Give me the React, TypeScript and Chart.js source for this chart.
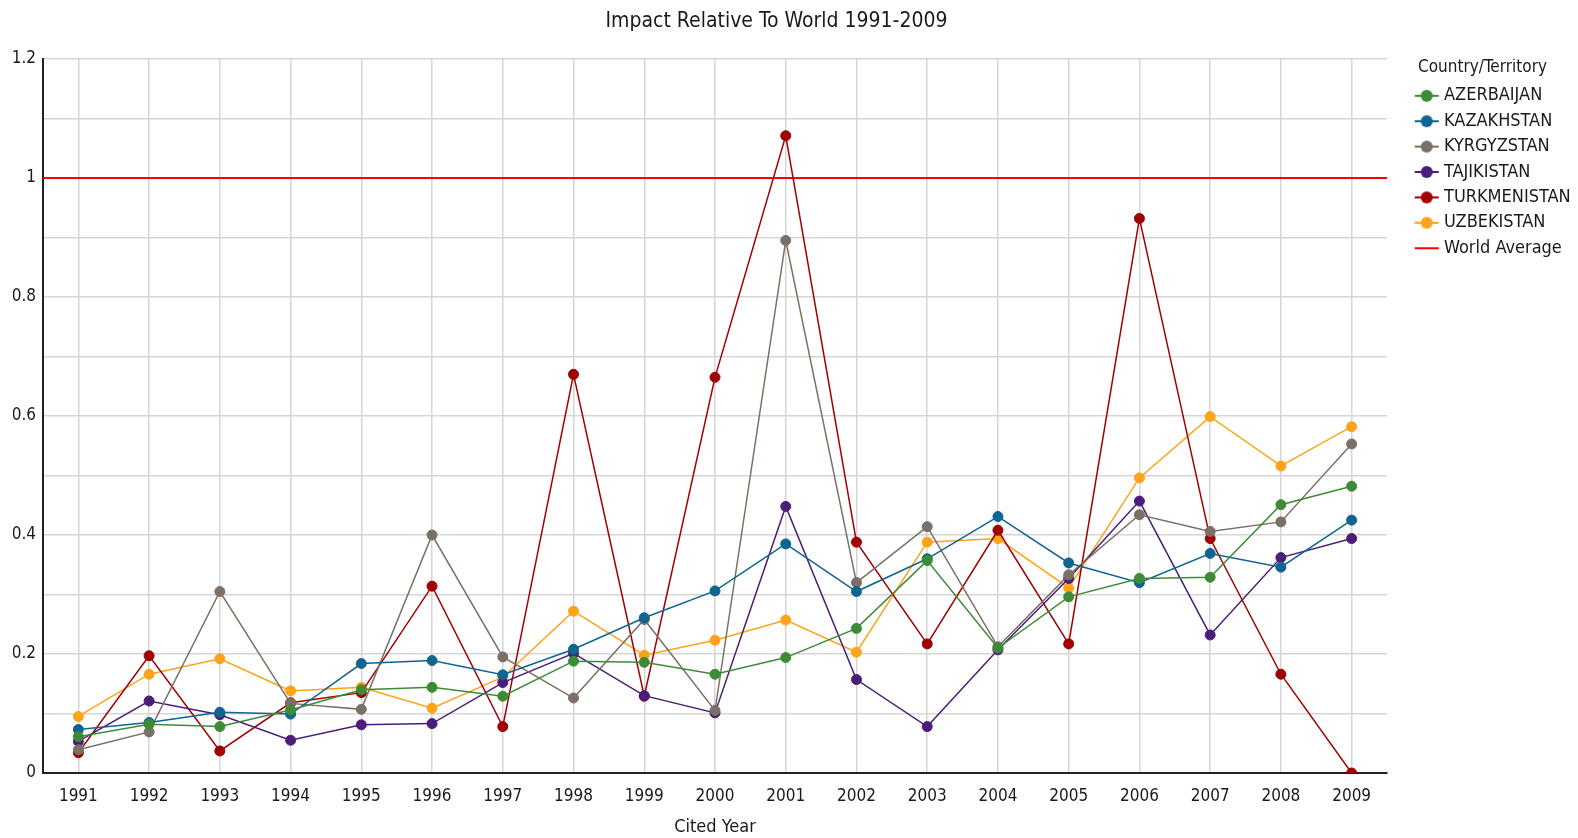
import React, { useEffect, useRef } from "react";
import { Chart, registerables } from "chart.js";

Chart.register(...registerables);

const years = ["1991","1992","1993","1994","1995","1996","1997","1998","1999","2000","2001","2002","2003","2004","2005","2006","2007","2008","2009"];

const azerbaijan = [0.061,0.082,0.078,0.106,0.140,0.144,0.129,0.188,0.186,0.166,0.194,0.243,0.357,0.210,0.296,0.327,0.329,0.451,0.482];
const kazakhstan = [0.073,0.085,0.102,0.099,0.184,0.189,0.165,0.208,0.261,0.306,0.385,0.305,0.360,0.431,0.353,0.320,0.369,0.346,0.425];
const kyrgyzstan = [0.039,0.069,0.305,0.117,0.107,0.400,0.195,0.126,0.258,0.105,0.895,0.320,0.414,0.212,0.333,0.434,0.406,0.422,0.553];
const tajikistan = [0.053,0.121,0.098,0.055,0.081,0.083,0.152,0.201,0.130,0.101,0.448,0.157,0.078,0.207,0.327,0.457,0.232,0.362,0.394];
const turkmenistan = [0.034,0.197,0.037,0.118,0.135,0.314,0.078,0.670,0.129,0.665,1.071,0.388,0.217,0.408,0.217,0.932,0.394,0.166,0.0];
const uzbekistan = [0.095,0.166,0.192,0.138,0.144,0.109,0.161,0.272,0.198,0.223,0.257,0.203,0.388,0.394,0.311,0.496,0.599,0.516,0.582];
const worldAverage = [1,1,1,1,1,1,1,1,1,1,1,1,1,1,1,1,1,1,1];

const seriesNames = ["AZERBAIJAN","KAZAKHSTAN","KYRGYZSTAN","TAJIKISTAN","TURKMENISTAN","UZBEKISTAN"];
const seriesColors = ["#3d8b37","#0e6592","#7a7065","#4a1e78","#a00000","#ffa31a"];
const seriesData = [azerbaijan, kazakhstan, kyrgyzstan, tajikistan, turkmenistan, uzbekistan];
const worldColor = "#ff0000";

const FONT = '"DejaVu Sans Condensed", "DejaVu Sans", sans-serif';
const TEXT = "#1a1a1a";

function makeMarker(color: string, withPoint: boolean) {
  const c = document.createElement("canvas");
  c.width = 50;
  c.height = 14;
  const g = c.getContext("2d")!;
  g.strokeStyle = color;
  g.lineWidth = 2;
  g.beginPath();
  g.moveTo(25, 7);
  g.lineTo(49, 7);
  g.stroke();
  if (withPoint) {
    g.fillStyle = color;
    g.beginPath();
    g.arc(37, 7, 6, 0, Math.PI * 2);
    g.fill();
  }
  return c;
}

export default function App() {
  const ref = useRef<HTMLCanvasElement | null>(null);

  useEffect(() => {
    if (!ref.current) return;
    const markers = [
      ...seriesColors.map((c) => makeMarker(c, true)),
      makeMarker(worldColor, false),
    ];

    const datasets: any[] = seriesNames.map((name, i) => ({
      label: name,
      data: seriesData[i],
      borderColor: seriesColors[i],
      backgroundColor: seriesColors[i],
      pointBackgroundColor: seriesColors[i],
      pointBorderColor: seriesColors[i],
      borderWidth: 1.5,
      pointRadius: 5,
      pointBorderWidth: 1,
      tension: 0,
    }));
    datasets.push({
      label: "World Average",
      data: worldAverage,
      borderColor: worldColor,
      backgroundColor: worldColor,
      showLine: false,
      borderWidth: 0,
      pointRadius: 0,
    });

    const shiftTitle = {
      id: "shiftTitle",
      afterLayout(chart: any) {
        const t = chart.titleBlock;
        if (t) t.right = t.right - 38;
      },
    };

    // World average reference line spanning the whole plot width
    const worldLine = {
      id: "worldLine",
      beforeDatasetsDraw(chart: any) {
        const { ctx, chartArea, scales } = chart;
        const y = scales.y.getPixelForValue(worldAverage[0]);
        ctx.save();
        ctx.strokeStyle = worldColor;
        ctx.lineWidth = 2;
        ctx.beginPath();
        ctx.moveTo(chartArea.left, y);
        ctx.lineTo(chartArea.right, y);
        ctx.stroke();
        ctx.restore();
      },
    };

    const chart = new Chart(ref.current, {
      type: "line",
      data: { labels: years, datasets },
      plugins: [shiftTitle, worldLine],
      options: {
        animation: false,
        responsive: true,
        maintainAspectRatio: false,
        devicePixelRatio: 1,
        layout: { padding: { left: 13, right: 0, top: 0, bottom: 0 } },
        plugins: {
          tooltip: { enabled: false },
          title: {
            display: true,
            text: "Impact Relative To World 1991-2009",
            color: TEXT,
            font: { family: FONT, size: 21, weight: "normal" },
            padding: { top: 9.4, bottom: 24.4 },
          },
          legend: {
            display: true,
            position: "right",
            align: "start",
            fullSize: false,
            maxWidth: 191,
            title: {
              display: true,
              text: "Country/Territory",
              color: TEXT,
              position: "center",
              font: { family: FONT, size: 17 },
              padding: { top: 0, bottom: 0 },
            },
            labels: {
              usePointStyle: true,
              pointStyleWidth: 40.6,
              padding: 7.4,
              color: TEXT,
              font: { family: FONT, size: 18 },
              generateLabels: (ch: any) => {
                const items = (Chart.defaults.plugins.legend.labels as any).generateLabels(ch);
                return items.map((it: any) => ({ ...it, pointStyle: markers[it.datasetIndex] }));
              },
            },
          },
        },
        scales: {
          x: {
            type: "category",
            offset: true,
            grid: { display: true, offset: false, color: "#d6d6d6", lineWidth: 1.5, drawTicks: false },
            border: { display: true, color: "#222", width: 2 },
            afterFit: (scale: any) => {
              scale.height = 65;
            },
            ticks: { color: TEXT, padding: 13.8, font: { family: FONT, size: 17 }, maxRotation: 0, autoSkip: false },
            title: {
              display: true,
              text: "Cited Year",
              color: TEXT,
              font: { family: FONT, size: 18 },
              padding: { top: 12.6, bottom: 0 },
            },
          },
          y: {
            type: "linear",
            min: 0,
            max: 1.2,
            grid: { display: true, color: "#d6d6d6", lineWidth: 1.5, drawTicks: false },
            border: { display: true, color: "#222", width: 2 },
            afterFit: (scale: any) => {
              scale.width = 30;
            },
            ticks: {
              stepSize: 0.1,
              color: TEXT,
              padding: 7,
              font: { family: FONT, size: 17 },
              callback: (value: any) => {
                const v = Math.round(Number(value) * 10);
                if (v % 2 !== 0) return "";
                return String(v / 10);
              },
            },
          },
        },
      },
    } as any);

    return () => chart.destroy();
  }, []);

  return (
    <div style={{ position: "absolute", left: 0, top: 0, width: 1578, height: 838 }}>
      <canvas ref={ref} />
    </div>
  );
}
